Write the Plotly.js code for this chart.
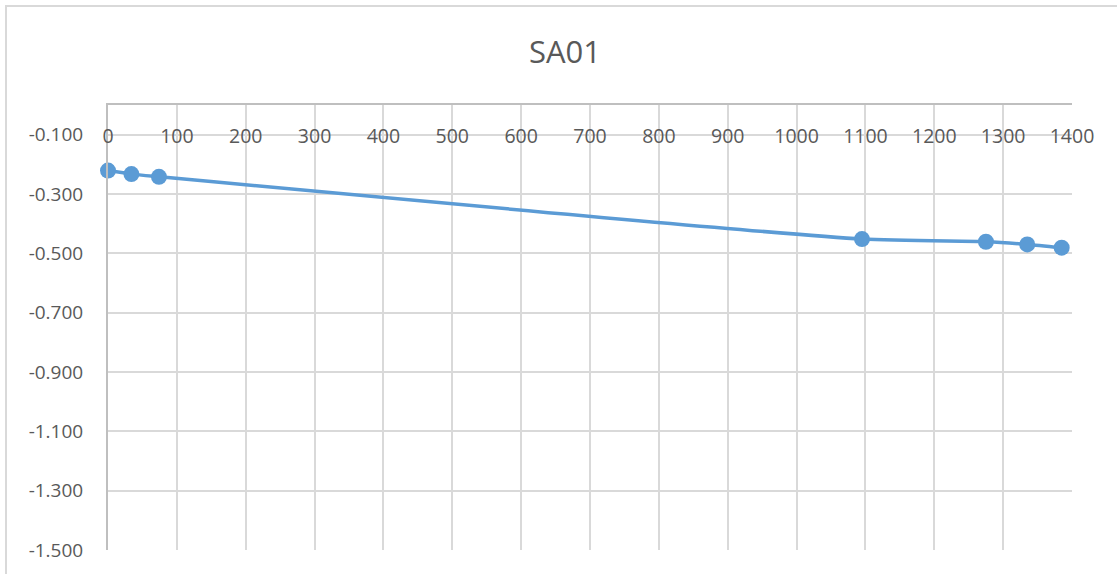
<!DOCTYPE html>
<html>
<head>
<meta charset="utf-8">
<script src="https://cdn.plot.ly/plotly-3.0.1.min.js"></script>
<style>
  html, body { margin: 0; padding: 0; background: #ffffff; overflow: hidden; }
  #chart { position: absolute; left: 0; top: 0; width: 1117px; height: 574px; }
  #frame { position: absolute; left: 5px; top: 5px; width: 3000px; height: 3000px;
           border-left: 2px solid #d9d9d9; border-top: 2px solid #d9d9d9; pointer-events: none; }
</style>
</head>
<body>
<div id="chart"></div>
<div id="frame"></div>
<script>
const chartTitle = "SA01";
const distance = [0, 34, 74, 1095, 1275, 1335, 1385];
const settlement = [-0.221, -0.233, -0.242, -0.452, -0.461, -0.470, -0.481];
const yTickVals = [-1.5, -1.3, -1.1, -0.9, -0.7, -0.5, -0.3, -0.1];
const yTickText = ["-1.500", "-1.300", "-1.100", "-0.900", "-0.700", "-0.500", "-0.300", "-0.100"];
const xTickVals = [0, 100, 200, 300, 400, 500, 600, 700, 800, 900, 1000, 1100, 1200, 1300, 1400];

const fontFamily = "'Open Sans', 'Liberation Sans', sans-serif";

const trace = {
  x: distance,
  y: settlement,
  type: "scatter",
  mode: "lines+markers",
  cliponaxis: false,
  line: { color: "#5b9bd5", width: 3.5, shape: "spline", smoothing: 0.6 },
  marker: { color: "#5b9bd5", size: 16 },
  hoverinfo: "x+y"
};

const layout = {
  width: 1117,
  height: 574,
  margin: { l: 108, r: 45, t: 105, b: 24 },
  paper_bgcolor: "rgba(0,0,0,0)",
  plot_bgcolor: "#ffffff",
  showlegend: false,
  title: {
    text: chartTitle,
    font: { family: fontFamily, size: 31, color: "#595959" },
    xref: "container", x: 565 / 1117, xanchor: "center",
    yref: "container", y: 1 - 52 / 574, yanchor: "middle"
  },
  xaxis: {
    side: "top",
    range: [0, 1400],
    tickvals: xTickVals,
    ticks: "",
    ticklabelposition: "inside",
    ticklabeloverflow: "allow",
    ticklabelstandoff: 25,
    showgrid: true,
    gridcolor: "#d9d9d9",
    gridwidth: 2,
    showline: true,
    linecolor: "#bfbfbf",
    linewidth: 2,
    zeroline: false,
    tickfont: { family: fontFamily, size: 19.5, color: "#595959" }
  },
  yaxis: {
    range: [-1.5, 0],
    tickvals: yTickVals,
    ticktext: yTickText,
    ticks: "",
    ticklabelstandoff: 19,
    showgrid: true,
    gridcolor: "#d9d9d9",
    gridwidth: 2,
    showline: true,
    linecolor: "#bfbfbf",
    linewidth: 2,
    zeroline: false,
    tickfont: { family: fontFamily, size: 19, color: "#595959" }
  }
};

Plotly.newPlot("chart", [trace], layout, { staticPlot: true, displayModeBar: false });
</script>
</body>
</html>
